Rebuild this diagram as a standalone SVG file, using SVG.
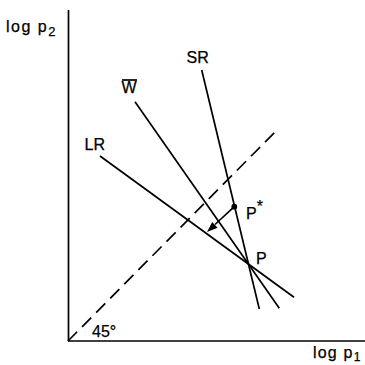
<svg xmlns="http://www.w3.org/2000/svg" width="365" height="365" viewBox="0 0 365 365">
<style>
.ln{stroke:#000;stroke-width:1.7;fill:none;stroke-linecap:butt}
.t{font-family:"Liberation Sans",Arial,sans-serif;font-size:16px;fill:#000;stroke:#000;stroke-width:0.25}
</style>
<rect width="365" height="365" fill="#fff"/>
<g id="axes">
<line class="ln" x1="68.5" y1="10" x2="68.5" y2="341"/>
<line class="ln" x1="68" y1="341" x2="365" y2="341"/>
</g>
<g id="connectors">
<line class="ln" x1="68" y1="341" x2="276" y2="131" stroke-dasharray="13,7"/>
<line id="SR" class="ln" x1="201.7" y1="70" x2="259.3" y2="309"/>
<line id="W" class="ln" x1="135" y1="101.7" x2="279.3" y2="308.3"/>
<line id="LR" class="ln" x1="100" y1="156" x2="294" y2="297.3"/>
<line class="ln" x1="234.3" y1="206.7" x2="215" y2="224.5" stroke-width="2.6"/>
<polygon points="207,232 217.6,227.8 212.2,221.9" fill="#000"/>
</g>
<g id="Pstar">
<circle cx="234.3" cy="206.7" r="2.9" fill="#000"/>
<text class="t" x="246" y="219" font-size="17">P<tspan dy="-7" font-size="16">*</tspan></text>
</g>
<g id="Pnode">
<text class="t" x="256" y="264" font-size="17">P</text>
</g>
<g id="labels">
<text class="t" x="6" y="32" letter-spacing="1.5">log <tspan>p</tspan><tspan dy="4" font-size="13">2</tspan></text>
<text class="t" x="313" y="357.5" letter-spacing="1.2">log <tspan>p</tspan><tspan dy="3" font-size="12">1</tspan></text>
<text class="t" x="186.5" y="63" font-size="17">SR</text>
<text class="t" x="121.5" y="93" font-size="17">W</text>
<line class="ln" x1="122" y1="80" x2="137" y2="80" stroke-width="1.4"/>
<text class="t" x="84.5" y="150" font-size="17">LR</text>
<text class="t" x="92" y="337" font-size="17">45°</text>
</g>
</svg>
